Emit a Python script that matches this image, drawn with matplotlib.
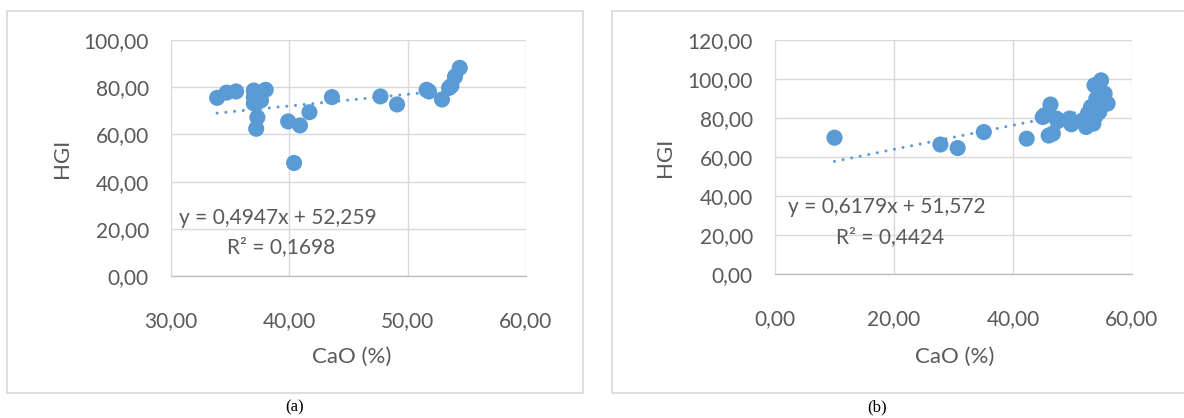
import matplotlib
matplotlib.use("Agg")
import matplotlib.pyplot as plt
from matplotlib.patches import Rectangle
from matplotlib.ticker import FuncFormatter, MultipleLocator

# CaO content (%) and Hardgrove Grindability Index, set (a)
cao_a = [33.9, 34.7, 35.5, 37.0, 37.1, 37.3, 37.2, 37.6, 38.0, 37.0, 37.0,
         39.9, 40.9, 40.4, 41.7, 43.6, 47.7, 49.1, 51.6, 51.8, 52.9, 53.5,
         53.7, 54.0, 54.4]
hgi_a = [75.5, 77.7, 78.2, 78.6, 73.5, 67.2, 62.4, 74.4, 78.9, 75.8, 73.2,
         65.5, 63.8, 47.9, 69.4, 75.8, 76.1, 72.7, 78.9, 78.2, 74.8, 79.7,
         80.6, 84.5, 88.2]
slope_a, icpt_a, r2_a = 0.4947, 52.259, 0.1698

# CaO content (%) and Hardgrove Grindability Index, set (b)
cao_b = [10.0, 27.8, 30.7, 35.1, 42.3, 45.0, 45.3, 46.3, 46.0, 46.7, 47.3,
         47.5, 49.5, 49.8, 51.7, 52.3, 52.6, 53.1, 53.4, 53.5, 54.0, 54.5,
         53.7, 54.8, 55.4, 55.9, 52.8, 53.9]
hgi_b = [69.9, 66.4, 64.6, 72.8, 69.4, 80.5, 81.4, 86.9, 71.0, 72.0, 79.7,
         78.3, 79.7, 76.8, 78.8, 75.4, 82.3, 85.6, 79.7, 77.1, 89.9, 83.1,
         96.8, 99.3, 92.5, 87.4, 80.5, 81.0]
slope_b, icpt_b, r2_b = 0.6179, 51.572, 0.4424

BLUE = "#5B9BD5"
GRID = "#D9D9D9"
TEXT = "#595959"
FONT = "Lato"

W, H = 1184, 418
fig = plt.figure(figsize=(W / 100, H / 100), dpi=100)


def px_axes(x0, y0, x1, y1):
    return fig.add_axes([x0 / W, 1 - y1 / H, (x1 - x0) / W, (y1 - y0) / H])


def comma(v, _pos):
    return f"{v:.2f}".replace(".", ",")


def panel(ax, cao, hgi, slope, icpt, r2, xlim, ylim, ystep, eq_pos, r2_pos):
    ax.set_xlim(*xlim)
    ax.set_ylim(*ylim)
    ax.xaxis.set_major_locator(MultipleLocator(10 if xlim[0] else 20))
    ax.yaxis.set_major_locator(MultipleLocator(ystep))
    ax.xaxis.set_major_formatter(FuncFormatter(comma))
    ax.yaxis.set_major_formatter(FuncFormatter(comma))
    ax.grid(True, color=GRID, linewidth=1.0, zorder=0)
    ax.set_axisbelow(True)
    for side in ("top", "right", "left"):
        ax.spines[side].set_visible(False)
    ax.spines["bottom"].set_color("#BFBFBF")
    ax.spines["bottom"].set_linewidth(1.0)
    ax.tick_params(length=0, labelsize=15, labelcolor=TEXT)
    ax.tick_params(axis="y", pad=16)
    ax.tick_params(axis="x", pad=25)
    for lab in ax.get_xticklabels() + ax.get_yticklabels():
        lab.set_fontfamily(FONT)

    xs = [min(cao), max(cao)]
    ax.plot(xs, [slope * x + icpt for x in xs], color=BLUE, linewidth=2.2,
            linestyle=(0, (0.01, 2.85)), dash_capstyle="round", zorder=2)
    ax.scatter(cao, hgi, s=135, color=BLUE, edgecolors="none", zorder=3)

    eq = f"y = {slope:.4f}x + {icpt:.3f}".replace(".", ",")
    ax.text(*eq_pos, eq, transform=ax.transAxes, ha="center", va="center",
            fontsize=15, color=TEXT, family=FONT, zorder=4)
    ax.text(*r2_pos, f"R² = {r2:.4f}".replace(".", ","), transform=ax.transAxes,
            ha="center", va="center", fontsize=15, color=TEXT, family=FONT,
            zorder=4)

    ax.set_xlabel("CaO (%)", fontsize=16, color=TEXT, family=FONT)
    ax.set_ylabel("HGI", fontsize=16, color=TEXT, family=FONT, va="center")


# panel frames
fig.add_artist(Rectangle((7 / W, 1 - 393 / H), 576 / W, 382 / H,
                         transform=fig.transFigure, fill=False,
                         edgecolor=GRID, linewidth=1.2))
fig.add_artist(Rectangle((612 / W, 1 - 393 / H), 580 / W, 382 / H,
                         transform=fig.transFigure, fill=False,
                         edgecolor=GRID, linewidth=1.2))

ax_a = px_axes(171, 40, 526, 276)
panel(ax_a, cao_a, hgi_a, slope_a, icpt_a, r2_a, (30, 60), (0, 100), 20,
      (0.30, 0.246), (0.31, 0.123))
ax_a.xaxis.set_label_coords(0.51, -0.30)
ax_a.yaxis.set_label_coords(-0.307, 0.5)

ax_b = px_axes(775, 40, 1132, 274)
panel(ax_b, cao_b, hgi_b, slope_b, icpt_b, r2_b, (0, 60), (0, 120), 20,
      (0.314, 0.286), (0.322, 0.158))
ax_b.xaxis.set_label_coords(0.504, -0.31)
ax_b.yaxis.set_label_coords(-0.308, 0.5)

fig.text(295 / W, 1 - 407 / H, "(a)", ha="center", va="center",
         family="Liberation Serif", fontsize=12, color="black")
fig.text(877 / W, 1 - 407 / H, "(b)", ha="center", va="center",
         family="Liberation Serif", fontsize=12, color="black")

fig.savefig("out.png", dpi=100, facecolor="white")
